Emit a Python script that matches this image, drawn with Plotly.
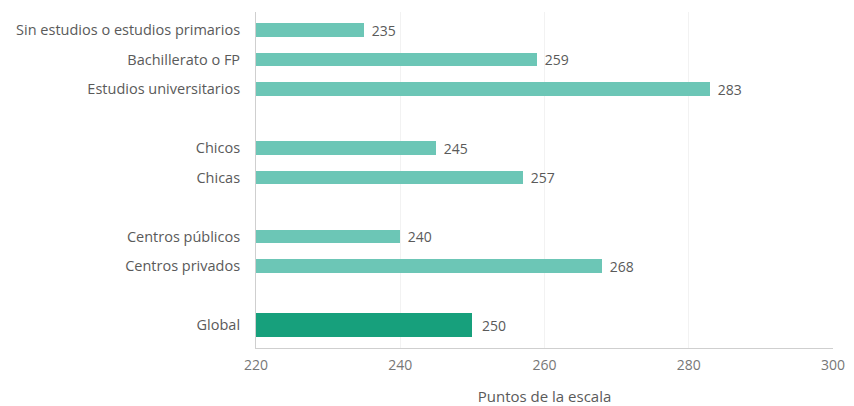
import plotly.graph_objects as go

labels = ["Sin estudios o estudios primarios", "Bachillerato o FP", "Estudios universitarios",
          "Chicos", "Chicas",
          "Centros públicos", "Centros privados",
          "Global"]
values = [235, 259, 283, 245, 257, 240, 268, 250]
group_sizes = [3, 2, 2, 1]
x_ticks = [220, 240, 260, 280, 300]

# slot positions: one blank slot between groups
pos = []
s = 0
for g in group_sizes:
    for _ in range(g):
        pos.append(s)
        s += 1
    s += 1

font_fam = "Open Sans, sans-serif"
grey = "#5a5a5a"

fig = go.Figure()
fig.add_trace(go.Bar(
    x=[v - 220 for v in values[:-1]], base=220, y=pos[:-1], orientation="h",
    marker=dict(color="#6cc6b6", line=dict(width=0)), width=0.47,
    text=[f"\u2009\u2009{v}" for v in values[:-1]], textposition="outside", constraintext="none",
    textfont=dict(family=font_fam, size=14, color=grey), cliponaxis=False,
))
fig.add_trace(go.Bar(
    x=[values[-1] - 220], base=220, y=[pos[-1]], orientation="h",
    marker=dict(color="#17a07c", line=dict(width=0)), width=0.8,
    text=[f"\u2002{values[-1]}"], textposition="outside", constraintext="none",
    textfont=dict(family=font_fam, size=14, color=grey), cliponaxis=False,
))

fig.update_layout(
    width=846, height=398,
    margin=dict(l=248, r=21, t=4, b=58),
    paper_bgcolor="white", plot_bgcolor="white",
    showlegend=False, bargap=0,
    font=dict(family=font_fam, size=14, color=grey),
    xaxis=dict(range=[220, 300], tickvals=x_ticks, ticktext=[str(t) for t in x_ticks],
               showgrid=True, gridcolor="#f2f2f2", zeroline=False,
               showline=True, linecolor="#cfcfcf", linewidth=1,
               ticks="", ticklabelstandoff=4, tickfont=dict(size=14, color="#777777"),
               title=dict(text="Puntos de la escala", font=dict(size=15, color=grey), standoff=18)),
    yaxis=dict(range=[10.78, -0.61], tickvals=pos, ticktext=labels,
               showgrid=False, zeroline=False, showline=True, linecolor="#cfcfcf", linewidth=1,
               ticks="", ticklabelstandoff=12, tickfont=dict(size=14.5, color=grey)),
)

fig.write_html("out.html")
